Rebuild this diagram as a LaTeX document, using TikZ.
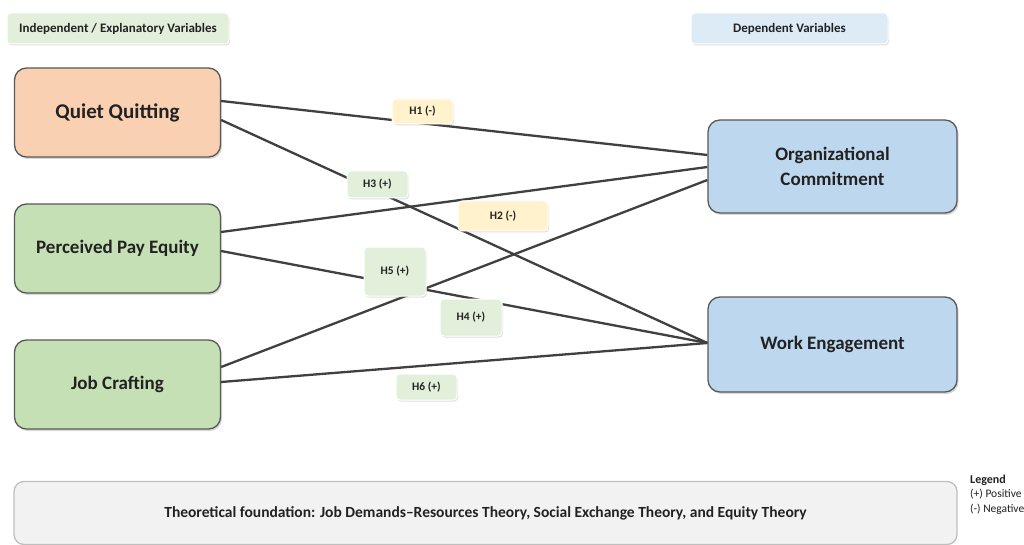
\documentclass[tikz,border=0pt]{standalone}
\usepackage{fontspec}
\setmainfont{Carlito}
\usetikzlibrary{shadows}
\definecolor{peach}{HTML}{F9D0B2}
\definecolor{lgreen}{HTML}{C5E0B4}
\definecolor{lblue}{HTML}{BDD7EE}
\definecolor{pgreen}{HTML}{E2EFDA}
\definecolor{pblue}{HTML}{DDEBF7}
\definecolor{pyellow}{HTML}{FFF2CC}
\definecolor{edge}{HTML}{595959}
\definecolor{lineclr}{HTML}{404040}
\definecolor{txt}{HTML}{222222}
\definecolor{theofill}{HTML}{F2F2F2}
\definecolor{theoedge}{HTML}{BFBFBF}
\tikzset{
  varbox/.style={draw=edge, line width=1.3pt, rounded corners=12pt, align=center,
    text=txt, font=\bfseries\fontsize{19}{24.5}\selectfont, inner sep=2pt,
    drop shadow={shadow xshift=1.5pt, shadow yshift=-2pt, opacity=0.3}},
  headbox/.style={draw=white, line width=1pt, rounded corners=4pt, text=txt,
    font=\bfseries\fontsize{13}{15}\selectfont, inner sep=1pt,
    drop shadow={shadow xshift=1pt, shadow yshift=-1.5pt, opacity=0.25}},
  hypbox/.style={draw=white, line width=1pt, rounded corners=4pt, text=txt,
    font=\bfseries\fontsize{11.5}{13}\selectfont, inner sep=1pt,
    drop shadow={shadow xshift=1pt, shadow yshift=-1.5pt, opacity=0.25}},
  link/.style={draw=lineclr, line width=2.3pt},
  legtext/.style={text=txt, anchor=west, inner sep=0pt, font=\fontsize{11.5}{13}\selectfont}
}
\begin{document}
\begin{tikzpicture}[x=1pt,y=-1pt]
\useasboundingbox (0,0) rectangle (1024,545);
\fill[white] (0,0) rectangle (1024,545);

\node[headbox, fill=pgreen, minimum width=222pt, minimum height=31pt] (ihead) at (118,28.5) {Independent / Explanatory Variables};
\node[headbox, fill=pblue, minimum width=197pt, minimum height=31pt] (dhead) at (789.5,28.5) {Dependent Variables};

\node[varbox, fill=peach, minimum width=206pt, minimum height=89pt, font=\bfseries\fontsize{21}{25}\selectfont] (qq) at (117.5,112.5) {Quiet Quitting};
\node[varbox, fill=lgreen, minimum width=206pt, minimum height=89pt] (ppe) at (117.5,248.5) {Perceived Pay Equity};
\node[varbox, fill=lgreen, minimum width=206pt, minimum height=89pt] (jc) at (117.5,384.5) {Job Crafting};
\node[varbox, fill=lblue, minimum width=249pt, minimum height=93pt] (oc) at (832.5,166.5) {Organizational\\Commitment};
\node[varbox, fill=lblue, minimum width=249pt, minimum height=95pt] (we) at (832.5,344.5) {Work Engagement};

\draw[link] ([yshift=11.5pt]qq.east) -- ([yshift=11.5pt]oc.west);
\draw[link] ([yshift=-7.5pt]qq.east) -- ([yshift=1.5pt]we.west);
\draw[link] ([yshift=16.5pt]ppe.east) -- ([yshift=-0.5pt]oc.west);
\draw[link] ([yshift=-2.5pt]ppe.east) -- ([yshift=1.5pt]we.west);
\draw[link] ([yshift=17.5pt]jc.east) -- ([yshift=-13.5pt]oc.west);
\draw[link] ([yshift=2.5pt]jc.east) -- ([yshift=1.5pt]we.west);

\node[hypbox, fill=pyellow, minimum width=61pt, minimum height=25pt] (h1) at (422.5,111.5) {H1 (-)};
\node[hypbox, fill=pgreen, minimum width=61pt, minimum height=27pt] (h3) at (377.5,184.5) {H3 (+)};
\node[hypbox, fill=pyellow, minimum width=90pt, minimum height=30pt] (h2) at (503,216) {H2 (-)};
\node[hypbox, fill=pgreen, minimum width=62pt, minimum height=49pt] (h5) at (395,271.5) {H5 (+)};
\node[hypbox, fill=pgreen, minimum width=62pt, minimum height=37pt] (h4) at (471,317.5) {H4 (+)};
\node[hypbox, fill=pgreen, minimum width=61pt, minimum height=26pt] (h6) at (426.5,387) {H6 (+)};

\node[draw=theoedge, line width=1.3pt, fill=theofill, rounded corners=10pt, minimum width=943pt, minimum height=63pt, text=txt, font=\bfseries\fontsize{15.5}{18}\selectfont] (theory) at (485.5,513) {Theoretical foundation: Job Demands--Resources Theory, Social Exchange Theory, and Equity Theory};

\node[legtext, font=\bfseries\fontsize{12}{13}\selectfont] (leg) at (970,480) {Legend};
\node[legtext] (legp) at (970,494.5) {(+) Positive};
\node[legtext] (legn) at (970,509) {(-) Negative};
\end{tikzpicture}
\end{document}
